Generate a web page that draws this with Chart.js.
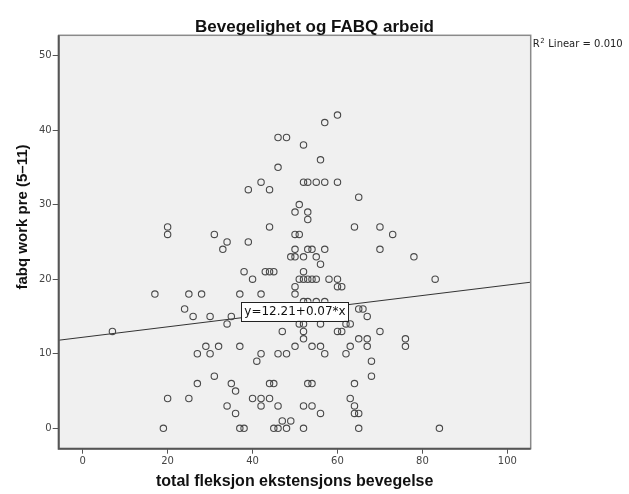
<!DOCTYPE html>
<html>
<head>
<meta charset="utf-8">
<script src="https://cdn.jsdelivr.net/npm/chart.js@4"></script>
<style>
  html, body { margin: 0; padding: 0; background: #fff; }
  canvas { display: block; }
</style>
</head>
<body>
<canvas id="chart" width="629" height="494"></canvas>
<script>
// total fleksjon ekstensjons bevegelse (x)
const flexion = [
  60,
  57,
  46, 48,
  52,
  56,
  46,
  42, 52, 53, 55, 57, 60,
  39, 44,
  65,
  51,
  50, 53,
  53,
  20, 44, 64, 70,
  20, 31, 50, 51, 73,
  34, 39,
  33, 50, 53, 54, 57, 70,
  49, 50, 52, 55, 78,
  56,
  38, 43, 44, 45, 52,
  40, 51, 52, 53, 54, 55, 58, 60, 83,
  50, 60, 61,
  17, 25, 28, 37, 42, 50,
  52, 53, 55, 57,
  24, 65, 66,
  26, 30, 35, 67,
  34, 51, 52, 56, 62, 63,
  7, 47, 52, 60, 61, 70,
  52, 65, 67, 76,
  29, 32, 37, 50, 54, 56, 63, 67, 76,
  27, 30, 42, 46, 48, 57, 62,
  41, 68,
  31, 68,
  27, 35, 44, 45, 53, 54, 64,
  36,
  20, 25, 40, 42, 44, 63,
  34, 42, 46, 52, 54, 64,
  36, 56, 64, 65,
  47, 49,
  19, 37, 38, 45, 46, 48, 52, 65, 84
];

// fabq work pre (5-11) (y), same order
const fabqWork = [
  42,
  41,
  39, 39,
  38,
  36,
  35,
  33, 33, 33, 33, 33, 33,
  32, 32,
  31,
  30,
  29, 29,
  28,
  27, 27, 27, 27,
  26, 26, 26, 26, 26,
  25, 25,
  24, 24, 24, 24, 24, 24,
  23, 23, 23, 23, 23,
  22,
  21, 21, 21, 21, 21,
  20, 20, 20, 20, 20, 20, 20, 20, 20,
  19, 19, 19,
  18, 18, 18, 18, 18, 18,
  17, 17, 17, 17,
  16, 16, 16,
  15, 15, 15, 15,
  14, 14, 14, 14, 14, 14,
  13, 13, 13, 13, 13, 13,
  12, 12, 12, 12,
  11, 11, 11, 11, 11, 11, 11, 11, 11,
  10, 10, 10, 10, 10, 10, 10,
  9, 9,
  7, 7,
  6, 6, 6, 6, 6, 6, 6,
  5,
  4, 4, 4, 4, 4, 4,
  3, 3, 3, 3, 3, 3,
  2, 2, 2, 2,
  1, 1,
  0, 0, 0, 0, 0, 0, 0, 0, 0
];

const xTicks = [0, 20, 40, 60, 80, 100];
const yTicks = [0, 10, 20, 30, 40, 50];
const xRange = [-5.65, 105.5];
const yRange = [-2.73, 52.7];

const fitIntercept = 12.21;
const fitSlope = 0.07;
const fitLabel = 'y=12.21+0.07*x';
const fitLabelAt = [50, 15.7];
const rSquared = '0.010';

const chartTitle = 'Bevegelighet og FABQ arbeid';
const xTitle = 'total fleksjon ekstensjons bevegelse';
const yTitle = 'fabq work pre (5\u201311)';

const points = flexion.map((x, i) => ({ x, y: fabqWork[i] }));
const fitLine = xRange.map(x => ({ x, y: fitIntercept + fitSlope * x }));

const tickFont = { family: 'DejaVu Sans', size: 10 };

const framePlugin = {
  id: 'frame',
  beforeDraw(chart) {
    const { ctx, chartArea: a } = chart;
    ctx.save();
    ctx.fillStyle = '#fff';
    ctx.fillRect(0, 0, chart.width, chart.height);
    ctx.fillStyle = '#f0f0f0';
    ctx.fillRect(a.left, a.top, a.right - a.left, a.bottom - a.top);
    ctx.restore();
  },
  afterDatasetsDraw(chart) {
    const { ctx, scales } = chart;
    // fit label box
    const cx = scales.x.getPixelForValue(fitLabelAt[0]);
    const cy = scales.y.getPixelForValue(fitLabelAt[1]);
    ctx.save();
    ctx.font = '12px "DejaVu Sans"';
    const w = ctx.measureText(fitLabel).width + 6;
    const h = 19;
    ctx.fillStyle = '#fff';
    ctx.fillRect(cx - w / 2, cy - h / 2, w, h);
    ctx.strokeStyle = '#222';
    ctx.lineWidth = 1;
    ctx.strokeRect(Math.round(cx - w / 2) + 0.5, Math.round(cy - h / 2) + 0.5, Math.round(w), h);
    ctx.fillStyle = '#111';
    ctx.textAlign = 'center';
    ctx.textBaseline = 'middle';
    ctx.fillText(fitLabel, cx, cy + 1);
    ctx.restore();
  },
  afterDraw(chart) {
    const { ctx, chartArea: a } = chart;
    ctx.save();
    // plot frame
    ctx.strokeStyle = '#8a8a8a';
    ctx.lineWidth = 1.5;
    ctx.strokeRect(a.left, a.top, a.right - a.left, a.bottom - a.top);
    ctx.strokeStyle = '#555';
    ctx.lineWidth = 2;
    ctx.beginPath();
    ctx.moveTo(a.left, a.top);
    ctx.lineTo(a.left, a.bottom);
    ctx.lineTo(a.right, a.bottom);
    ctx.stroke();

    // titles
    ctx.fillStyle = '#111';
    ctx.textAlign = 'center';
    ctx.textBaseline = 'alphabetic';
    ctx.font = 'bold 17px "Liberation Sans"';
    ctx.fillText(chartTitle, chart.width / 2, 32);
    ctx.font = 'bold 16px "Liberation Sans"';
    ctx.fillText(xTitle, (a.left + a.right) / 2, 486);
    ctx.save();
    ctx.translate(22.5, 217);
    ctx.rotate(-Math.PI / 2);
    ctx.font = 'bold 15px "Liberation Sans"';
    ctx.textBaseline = 'middle';
    ctx.fillText(yTitle, 0, 0);
    ctx.restore();

    // R squared note
    ctx.textAlign = 'left';
    ctx.fillStyle = '#222';
    let x = a.right + 2;
    const base = 46.5;
    ctx.font = '10px "DejaVu Sans"';
    ctx.fillText('R', x, base);
    x += ctx.measureText('R').width;
    ctx.font = '7px "DejaVu Sans"';
    ctx.fillText('2', x + 0.5, base - 4);
    x += ctx.measureText('2').width + 1;
    ctx.font = '10px "DejaVu Sans"';
    ctx.fillText(' Linear = ' + rSquared, x, base);
    ctx.restore();
  }
};

new Chart(document.getElementById('chart'), {
  type: 'scatter',
  data: {
    datasets: [
      {
        label: 'fit',
        type: 'line',
        data: fitLine,
        borderColor: '#333',
        borderWidth: 1,
        pointRadius: 0,
        fill: false,
        order: 2
      },
      {
        label: 'points',
        data: points,
        pointStyle: 'circle',
        pointRadius: 3.2,
        borderWidth: 1.1,
        borderColor: '#4a4a4a',
        backgroundColor: 'rgba(0,0,0,0)',
        order: 1
      }
    ]
  },
  options: {
    responsive: false,
    devicePixelRatio: 1,
    animation: false,
    layout: { padding: { top: 35.3, right: 98.3, bottom: 0, left: 0 } },
    plugins: { legend: { display: false }, tooltip: { enabled: false }, title: { display: false } },
    scales: {
      x: {
        type: 'linear',
        min: xRange[0],
        max: xRange[1],
        afterBuildTicks: s => { s.ticks = xTicks.map(v => ({ value: v })); },
        afterFit: s => { s.height = 45.3; },
        ticks: { font: tickFont, color: '#444', padding: 2, maxRotation: 0, autoSkip: false },
        grid: { drawOnChartArea: false, tickLength: 5, color: '#555', lineWidth: 1 },
        border: { display: false }
      },
      y: {
        type: 'linear',
        min: yRange[0],
        max: yRange[1],
        afterBuildTicks: s => { s.ticks = yTicks.map(v => ({ value: v })); },
        afterFit: s => { s.width = 58.7; },
        ticks: { font: tickFont, color: '#444', padding: 1, autoSkip: false },
        grid: { drawOnChartArea: false, tickLength: 6, color: '#555', lineWidth: 1 },
        border: { display: false }
      }
    }
  },
  plugins: [framePlugin]
});
</script>
</body>
</html>
